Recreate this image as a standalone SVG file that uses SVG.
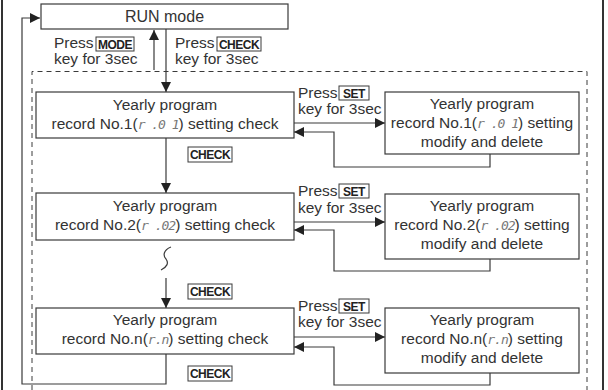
<svg xmlns="http://www.w3.org/2000/svg" width="608" height="390" viewBox="0 0 608 390">
<style>
  .box{fill:#fff;stroke:#3a3a3a;stroke-width:1.2}
  .key{fill:#fff;stroke:#3a3a3a;stroke-width:1}
  .t{font-family:"Liberation Sans",Arial,sans-serif;font-size:15.5px;fill:#333}
  .c{text-anchor:middle}
  .k{font-family:"Liberation Sans",Arial,sans-serif;font-size:12px;font-weight:bold;fill:#222;text-anchor:middle;letter-spacing:-0.5px}
  .seg{font-family:"DejaVu Sans Mono",monospace;font-style:italic;font-size:13px;fill:#777;letter-spacing:-1px}
  .ln{fill:none;stroke:#3a3a3a;stroke-width:1.2}
  .dash{fill:none;stroke:#3a3a3a;stroke-width:1;stroke-dasharray:5,4}
  .frame{stroke:#333;stroke-width:2}
</style>
<defs>
  <marker id="ah" markerUnits="userSpaceOnUse" markerWidth="12" markerHeight="10" refX="10" refY="5" orient="auto">
    <path d="M0,0 L10,5 L0,10 z" fill="#222"/>
  </marker>
</defs>
<rect width="608" height="390" fill="#fff"/>
<line class="frame" x1="2" y1="0" x2="2" y2="390"/>
<line class="frame" x1="603" y1="0" x2="603" y2="390"/>
<path class="dash" d="M32,390 V71.5 H587 V390"/>

<g id="connectors">
  <path class="ln" d="M166,354 V384 H22 V18 H40" marker-end="url(#ah)"/>
  <path class="ln" d="M154,70 V30" marker-end="url(#ah)"/>
  <path class="ln" d="M166,29 V92" marker-end="url(#ah)"/>
  <path class="ln" d="M166,138 V193" marker-end="url(#ah)"/>
  <path class="ln" d="M166,278 V308" marker-end="url(#ah)"/>
  <path class="ln" d="M171,247 C163,250 163,256 166,259 C169,263 167,267 161,270"/>
  <path class="ln" d="M294,123 H385" marker-end="url(#ah)"/>
  <path class="ln" d="M490,154 V167 H334 V132 H294" marker-end="url(#ah)"/>
  <path class="ln" d="M294,222 H385" marker-end="url(#ah)"/>
  <path class="ln" d="M490,259 V271 H334 V230 H294" marker-end="url(#ah)"/>
  <path class="ln" d="M294,337 H385" marker-end="url(#ah)"/>
  <path class="ln" d="M490,373 V385 H334 V347 H294" marker-end="url(#ah)"/>
</g>

<g id="labels">
  <text class="t" x="54" y="48">Press</text>
  <rect class="key" x="96" y="37" width="38" height="14"/>
  <text class="k" x="115" y="48.5">MODE</text>
  <text class="t" x="54" y="64">key for 3sec</text>
  <text class="t" x="175" y="48">Press</text>
  <rect class="key" x="217" y="37" width="44" height="14"/>
  <text class="k" x="239" y="48.5">CHECK</text>
  <text class="t" x="175" y="64">key for 3sec</text>

  <text class="t" x="298" y="98">Press</text>
  <rect class="key" x="339" y="86" width="30" height="14"/>
  <text class="k" x="354" y="97.5">SET</text>
  <text class="t" x="298" y="114">key for 3sec</text>

  <text class="t" x="298" y="196">Press</text>
  <rect class="key" x="339" y="184" width="30" height="14"/>
  <text class="k" x="354" y="195.5">SET</text>
  <text class="t" x="298" y="213">key for 3sec</text>

  <text class="t" x="298" y="311">Press</text>
  <rect class="key" x="339" y="299" width="30" height="14"/>
  <text class="k" x="354" y="310.5">SET</text>
  <text class="t" x="298" y="327">key for 3sec</text>

  <rect class="key" x="188" y="147" width="44" height="15"/>
  <text class="k" x="210" y="159">CHECK</text>
  <rect class="key" x="188" y="284" width="44" height="15"/>
  <text class="k" x="210" y="296">CHECK</text>
  <rect class="key" x="188" y="366" width="44" height="15"/>
  <text class="k" x="210" y="378">CHECK</text>
</g>

<g id="run-mode">
  <rect class="box" x="41" y="4" width="247" height="25"/>
  <text class="t c" x="164.5" y="22" style="font-size:16px">RUN mode</text>
</g>

<g id="check-1">
  <rect class="box" x="36" y="92" width="258" height="46"/>
  <text class="t c" x="165" y="110">Yearly program</text>
  <text class="t c" x="165" y="129">record No.1(<tspan class="seg">r .0 1</tspan>) setting check</text>
</g>
<g id="modify-1">
  <rect class="box" x="385" y="92" width="194" height="62"/>
  <text class="t c" x="482" y="109">Yearly program</text>
  <text class="t c" x="482" y="128">record No.1(<tspan class="seg">r .0 1</tspan>) setting</text>
  <text class="t c" x="482" y="147">modify and delete</text>
</g>

<g id="check-2">
  <rect class="box" x="36" y="193" width="258" height="47"/>
  <text class="t c" x="165" y="211">Yearly program</text>
  <text class="t c" x="165" y="230">record No.2(<tspan class="seg">r .02</tspan>) setting check</text>
</g>
<g id="modify-2">
  <rect class="box" x="385" y="194" width="194" height="65"/>
  <text class="t c" x="482" y="211">Yearly program</text>
  <text class="t c" x="482" y="230">record No.2(<tspan class="seg">r .02</tspan>) setting</text>
  <text class="t c" x="482" y="249">modify and delete</text>
</g>

<g id="check-n">
  <rect class="box" x="36" y="308" width="258" height="46"/>
  <text class="t c" x="165" y="325">Yearly program</text>
  <text class="t c" x="165" y="344">record No.n(<tspan class="seg">r.n</tspan>) setting check</text>
</g>
<g id="modify-n">
  <rect class="box" x="385" y="308" width="194" height="65"/>
  <text class="t c" x="482" y="325">Yearly program</text>
  <text class="t c" x="482" y="344">record No.n(<tspan class="seg">r.n</tspan>) setting</text>
  <text class="t c" x="482" y="363">modify and delete</text>
</g>
</svg>
